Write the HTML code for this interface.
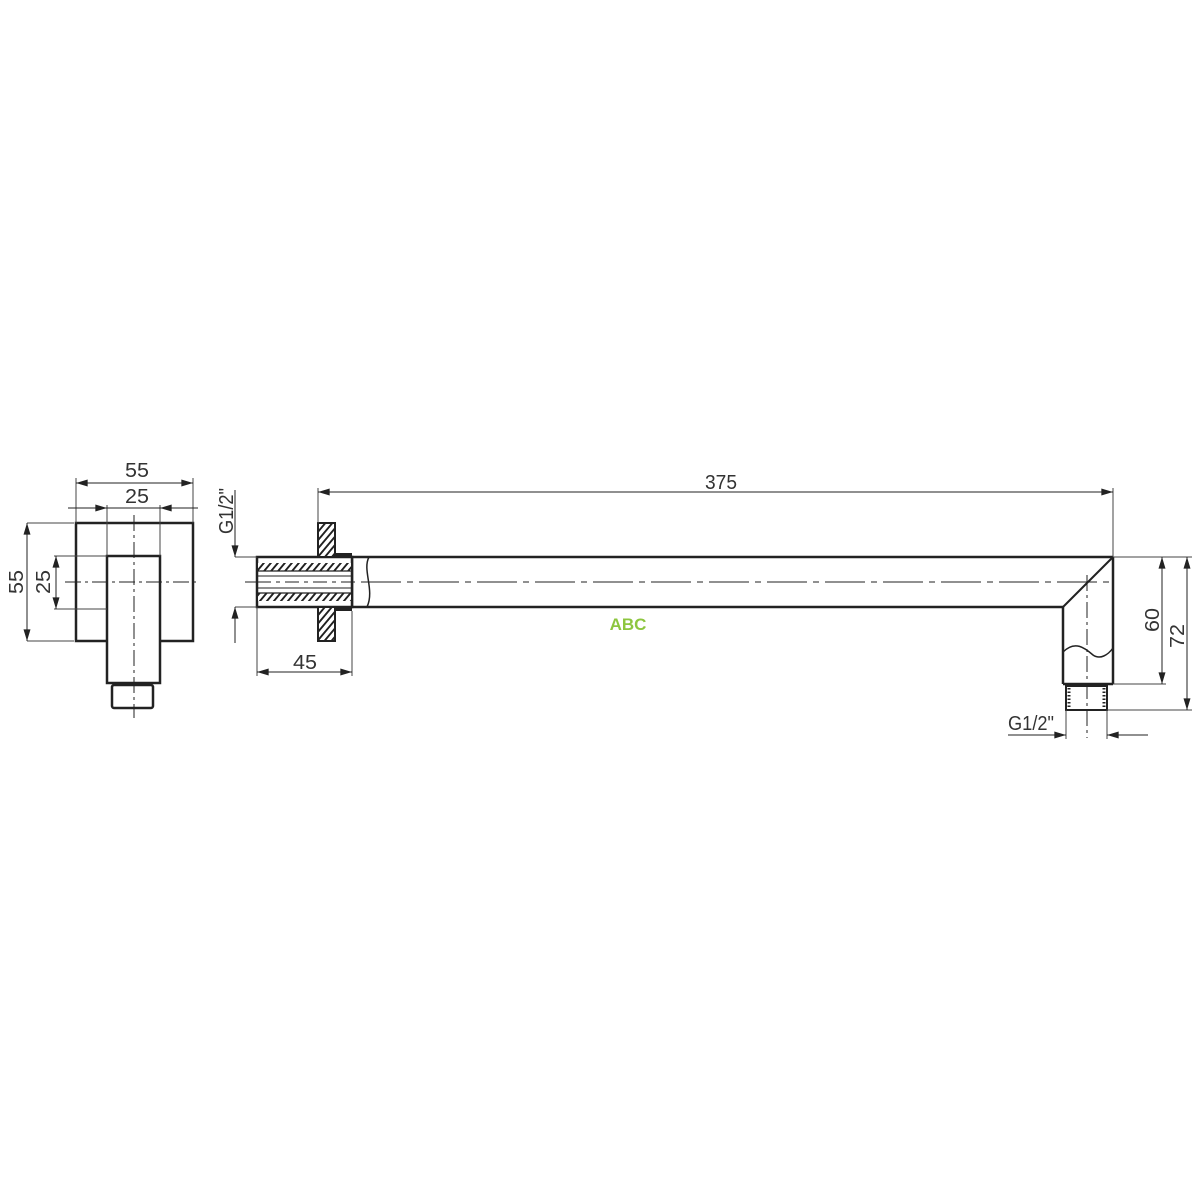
<!DOCTYPE html>
<html><head><meta charset="utf-8"><style>
html,body{margin:0;padding:0;background:#fff;}
svg{display:block}
text{font-family:"Liberation Sans",sans-serif;font-size:20px;fill:#333;}
</style></head><body>
<svg width="1200" height="1200" viewBox="0 0 1200 1200" xmlns="http://www.w3.org/2000/svg">
<defs>
<marker id="a" viewBox="0 0 10 6" refX="10" refY="3" markerWidth="24" markerHeight="7" markerUnits="userSpaceOnUse" orient="auto-start-reverse"><path d="M0,0L10,3L0,6z" fill="#222"/></marker>
<pattern id="h" width="7" height="8" patternUnits="userSpaceOnUse" patternTransform="skewX(-40)"><rect width="7" height="8" fill="#fff"/><rect width="2.5" height="8" fill="#222"/></pattern>
</defs>
<g stroke="#222" fill="none">
<!-- left view -->
<rect x="76" y="523" width="117" height="118" stroke-width="2.5"/>
<rect x="107" y="556" width="53" height="127" stroke-width="2.5" fill="#fff"/>
<rect x="112" y="685" width="41" height="23" rx="2" stroke-width="2.5"/>
<line x1="134" y1="515" x2="134" y2="718" stroke-width="1" stroke-dasharray="16,4,3,4"/>
<line x1="65" y1="582" x2="200" y2="582" stroke-width="1" stroke-dasharray="16,4,3,4"/>
<g stroke-width="1" stroke="#444">
<line x1="76" y1="478" x2="76" y2="523"/><line x1="193" y1="478" x2="193" y2="523"/>
<line x1="107" y1="505" x2="107" y2="556"/><line x1="160" y1="505" x2="160" y2="556"/>
<line x1="27" y1="523" x2="74" y2="523"/><line x1="27" y1="641" x2="74" y2="641"/>
<line x1="54" y1="556" x2="107" y2="556"/><line x1="54" y1="609" x2="107" y2="609"/>
</g>
<line x1="76" y1="483" x2="193" y2="483" stroke-width="1" marker-start="url(#a)" marker-end="url(#a)"/>
<line x1="68" y1="508" x2="107" y2="508" stroke-width="1" marker-end="url(#a)"/>
<line x1="198" y1="508" x2="160" y2="508" stroke-width="1" marker-end="url(#a)"/>
<line x1="107" y1="508" x2="160" y2="508" stroke-width="1"/>
<line x1="27" y1="523" x2="27" y2="641" stroke-width="1" marker-start="url(#a)" marker-end="url(#a)"/>
<line x1="56" y1="556" x2="56" y2="609" stroke-width="1" marker-start="url(#a)" marker-end="url(#a)"/>

<!-- middle pipe -->
<line x1="352" y1="557" x2="1113" y2="557" stroke-width="2.5"/>
<line x1="352" y1="607" x2="1063" y2="607" stroke-width="2.5"/>
<line x1="1063" y1="607" x2="1113" y2="557" stroke-width="2"/>
<line x1="1113" y1="557" x2="1113" y2="684" stroke-width="2.5"/>
<line x1="1063" y1="607" x2="1063" y2="684" stroke-width="2.5"/>
<line x1="1063" y1="684" x2="1113" y2="684" stroke-width="2.5"/>
<path d="M1063,652 C1075,640 1085,648 1093,655 C1100,660 1108,655 1113,648" stroke-width="1.5"/>
<rect x="1066" y="686" width="41" height="24" stroke-width="2"/>
<path d="M1069,688v20M1104,688v20" stroke-width="3" stroke-dasharray="1.5,2"/>
<line x1="1087" y1="575" x2="1087" y2="738" stroke-width="1" stroke-dasharray="16,4,3,4"/>
<line x1="245" y1="582" x2="1110" y2="582" stroke-width="1" stroke-dasharray="40,6,6,6"/>
<path d="M369,557 C362,570 375,590 367,607" stroke-width="1.5"/>
<line x1="352" y1="557" x2="352" y2="607" stroke-width="2.5"/>
<!-- threaded part -->
<rect x="257" y="557" width="95" height="50" stroke-width="2.5" fill="#fff"/>
<rect x="258" y="563" width="93" height="8" fill="url(#h)" stroke="none"/>
<rect x="258" y="593" width="93" height="8" fill="url(#h)" stroke="none"/>
<line x1="257" y1="571" x2="352" y2="571" stroke-width="1.2"/>
<line x1="257" y1="576" x2="352" y2="576" stroke-width="1"/>
<line x1="257" y1="588" x2="352" y2="588" stroke-width="1"/>
<line x1="257" y1="593" x2="352" y2="593" stroke-width="1.2"/>
<line x1="257" y1="582" x2="352" y2="582" stroke-width="1" stroke-dasharray="14,5,4,5"/>
<!-- flange -->
<rect x="318" y="523" width="17" height="34" stroke-width="2" fill="url(#h)"/>
<rect x="318" y="607" width="17" height="34" stroke-width="2" fill="url(#h)"/>
<rect x="335" y="553" width="17" height="4" fill="#222" stroke="none"/>
<rect x="335" y="607" width="17" height="4" fill="#222" stroke="none"/>
<!-- dims middle -->
<g stroke-width="1" stroke="#444">
<line x1="318" y1="488" x2="318" y2="523"/><line x1="1113" y1="488" x2="1113" y2="557"/>
<line x1="235" y1="557" x2="257" y2="557"/><line x1="235" y1="607" x2="257" y2="607"/>
<line x1="257" y1="607" x2="257" y2="676"/><line x1="352" y1="611" x2="352" y2="676"/>
<line x1="1113" y1="557" x2="1192" y2="557"/><line x1="1113" y1="684" x2="1166" y2="684"/>
<line x1="1107" y1="710" x2="1192" y2="710"/>
<line x1="1066" y1="710" x2="1066" y2="739"/><line x1="1107" y1="710" x2="1107" y2="739"/>
</g>
<line x1="318" y1="492" x2="1113" y2="492" stroke-width="1" marker-start="url(#a)" marker-end="url(#a)"/>
<line x1="235" y1="490" x2="235" y2="557" stroke-width="1" marker-end="url(#a)"/>
<line x1="235" y1="643" x2="235" y2="607" stroke-width="1" marker-end="url(#a)"/>
<line x1="257" y1="672" x2="352" y2="672" stroke-width="1" marker-start="url(#a)" marker-end="url(#a)"/>
<line x1="1162" y1="557" x2="1162" y2="684" stroke-width="1" marker-start="url(#a)" marker-end="url(#a)"/>
<line x1="1187" y1="557" x2="1187" y2="710" stroke-width="1" marker-start="url(#a)" marker-end="url(#a)"/>
<line x1="1008" y1="735" x2="1066" y2="735" stroke-width="1" marker-end="url(#a)"/>
<line x1="1148" y1="735" x2="1107" y2="735" stroke-width="1" marker-end="url(#a)"/>
</g>
<text x="137" y="477" text-anchor="middle" textLength="24" lengthAdjust="spacingAndGlyphs">55</text>
<text x="137" y="503" text-anchor="middle" textLength="24" lengthAdjust="spacingAndGlyphs">25</text>
<text transform="translate(23,582) rotate(-90)" text-anchor="middle" textLength="24" lengthAdjust="spacingAndGlyphs">55</text>
<text transform="translate(50,582) rotate(-90)" text-anchor="middle" textLength="24" lengthAdjust="spacingAndGlyphs">25</text>
<text transform="translate(233,511) rotate(-90)" text-anchor="middle" textLength="46" lengthAdjust="spacingAndGlyphs">G1/2"</text>
<text x="305" y="669" text-anchor="middle" textLength="24" lengthAdjust="spacingAndGlyphs">45</text>
<text x="721" y="489" text-anchor="middle" textLength="32" lengthAdjust="spacingAndGlyphs">375</text>
<text transform="translate(1159,620) rotate(-90)" text-anchor="middle" textLength="24" lengthAdjust="spacingAndGlyphs">60</text>
<text transform="translate(1184,636) rotate(-90)" text-anchor="middle" textLength="24" lengthAdjust="spacingAndGlyphs">72</text>
<text x="1031" y="730" text-anchor="middle" textLength="46" lengthAdjust="spacingAndGlyphs">G1/2"</text>
<text x="628" y="630" text-anchor="middle" style="font-size:17px;font-weight:bold;fill:#8dc63f">ABC</text>
</svg>
</body></html>
